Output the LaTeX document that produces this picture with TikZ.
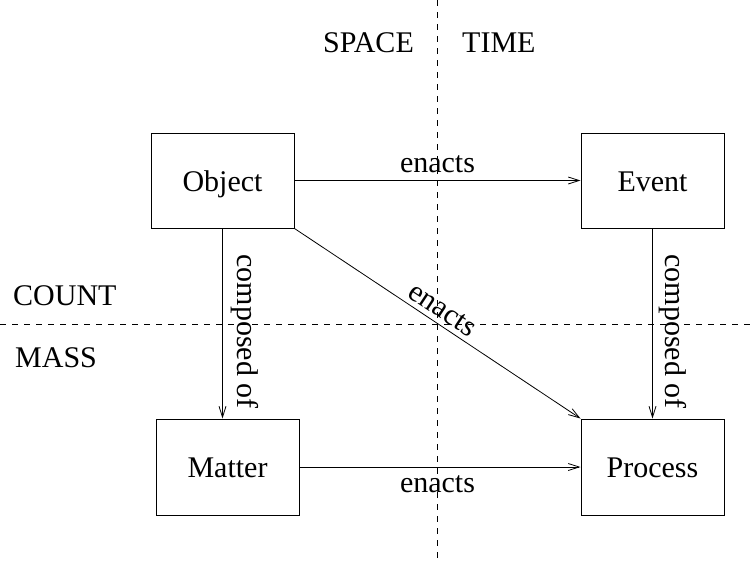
\documentclass[tikz,border=0pt]{standalone}
\usepackage{fontspec}
\setmainfont{Liberation Serif}
\usetikzlibrary{arrows.meta}
\begin{document}
\begin{tikzpicture}[x=1pt,y=-1pt,
  every node/.style={font=\fontsize{30}{36}\selectfont},
  box/.style={draw, line width=1pt, minimum width=143pt, minimum height=95pt, inner sep=0pt, text height=21pt, text depth=0pt},
  conn/.style={line width=0.8pt, -{Straight Barb[length=11pt,width=7pt]}},
  divider/.style={dash pattern=on 6pt off 6pt, line width=0.8pt},
  lbl/.style={inner sep=0pt, anchor=base west},
  elbl/.style={inner sep=0pt, anchor=base}]
\useasboundingbox (0,0) rectangle (754,563);
% dividers
\coordinate (vt) at (437,0);
\coordinate (vb) at (437,563);
\coordinate (hl) at (0,324);
\coordinate (hr) at (754,324);
\draw[divider] (vt) -- (vb);
\draw[divider] (hl) -- (hr);
% quadrant labels
\node[lbl] (space) at (323,52) {SPACE};
\node[lbl] (time) at (462,52) {TIME};
\node[lbl] (count) at (13,305) {COUNT};
\node[lbl] (mass) at (15,367) {MASS};
% boxes
\node[box] (obj) at (222.5,180.5) {Object};
\node[box] (evt) at (652.5,180.5) {Event};
\node[box, minimum height=96pt] (mat) at (227.5,467) {Matter};
\node[box, minimum height=96pt] (proc) at (652.5,467) {Process};
% connectors
\draw[conn] (obj.east) -- (evt.west);
\node[elbl] (l1) at (437.5,172) {enacts};
\draw[conn] (mat.east) -- (proc.west);
\node[elbl] (l2) at (437.5,492) {enacts};
\draw[conn] (obj.south east) -- node[pos=0.49, sloped, above, inner sep=5pt] (l3) {enacts} (proc.north west);
\draw[conn] (obj.south) -- (obj.south |- mat.north);
\node[elbl, rotate=-90] (l4) at (237,331.5) {composed of};
\draw[conn] (evt.south) -- (proc.north);
\node[elbl, rotate=-90] (l5) at (665,331.5) {composed of};
\end{tikzpicture}
\end{document}
